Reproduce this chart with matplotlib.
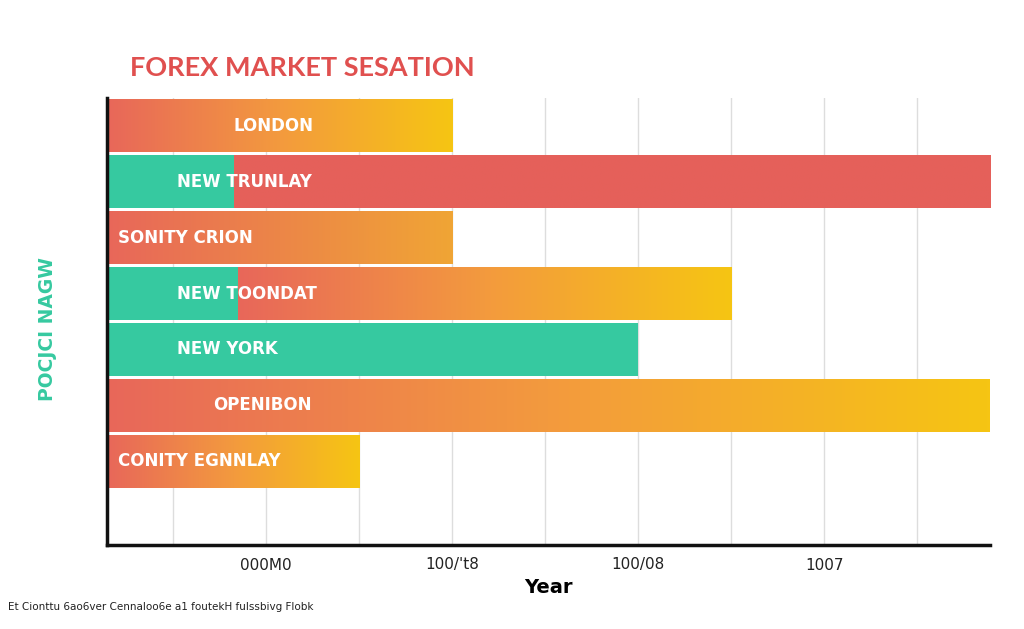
import numpy as np
import matplotlib
matplotlib.use("Agg")
import matplotlib.pyplot as plt
from matplotlib.colors import LinearSegmentedColormap

# data
sessions = ["LONDON", "NEW TRUNLAY", "SONITY CRION", "NEW TOONDAT",
            "NEW YORK", "OPENIBON", "CONITY EGNNLAY"]
totals = [4.0, 9.78, 4.0, 7.0, 6.0, 9.78, 3.0]
teal_end = [0.0, 1.65, 0.0, 1.70, 6.0, 0.0, 0.0]
tick_pos = [2, 4, 6, 8]
tick_labels = ["000M0", "100/'t8", "100/08", "1007"]

X0 = 0.29
TEAL = "#36C9A0"
warm = LinearSegmentedColormap.from_list("warm", ["#E8675A", "#F39A3E", "#F6C513"])
warm_short = LinearSegmentedColormap.from_list("warm_s", ["#E8675A", "#F0A535"])
red = LinearSegmentedColormap.from_list("red", ["#E5615A", "#E5605A"])
bar_cmaps = [warm, red, warm_short, warm, warm, warm, warm]
label_x = [2.08, 1.04, 0.41, 1.04, 1.04, 1.96, 0.41]
label_ha = ["center", "left", "left", "left", "left", "center", "left"]

fig = plt.figure(figsize=(10.24, 6.29), dpi=100)
ax = fig.add_axes([107 / 1024, 1 - 545 / 629, (990 - 107) / 1024, (545 - 98) / 629])

ax.set_xticks(tick_pos)
ax.set_xticklabels(tick_labels, fontsize=11, color="#222222")
ax.set_xticks([1, 3, 5, 7, 9], minor=True)
ax.tick_params(axis="x", which="both", length=0, pad=9)
ax.set_yticks([])
ax.grid(axis="x", which="both", color="#DDDDDD", lw=1)
ax.set_axisbelow(True)
for s in ["top", "right"]:
    ax.spines[s].set_visible(False)
for s in ["left", "bottom"]:
    ax.spines[s].set_linewidth(2.5)
    ax.spines[s].set_color("#111111")

grad = np.linspace(0, 1, 256).reshape(1, -1)
h = 0.95
for i, (name, tot, te) in enumerate(zip(sessions, totals, teal_end)):
    start = X0
    if te > 0:
        ax.barh(i, min(te, tot) - X0, left=X0, height=h, color=TEAL, zorder=2)
        start = te
    if tot > start:
        bar = ax.barh(i, tot - start, left=start, height=h, color="none", zorder=2)[0]
        im = ax.imshow(grad, cmap=bar_cmaps[i], aspect="auto",
                       extent=(start, tot, i + h / 2, i - h / 2), zorder=2)
        im.set_clip_path(bar)
    ax.text(label_x[i], i, name, ha=label_ha[i], va="center", color="white",
            fontsize=12, fontweight="bold", zorder=3)

ax.set_xlim(X0, 9.78)
ax.set_ylim(7.5, -0.5)

ax.set_xlabel("Year", fontsize=14, fontweight="bold", labelpad=4)
ax.set_ylabel("POCJCI NAGW", fontsize=13.5, fontweight="bold", color=TEAL)
ax.yaxis.set_label_coords(-50 / 883, 1 - (329 - 98) / 447)

fig.text(130 / 1024, 1 - 68 / 629, "FOREX MARKET SESATION", fontsize=19.5,
         fontweight="bold", color="#E0504F", va="center", family="Lato")
fig.text(8 / 1024, 1 - 607 / 629, "Et Cionttu 6ao6ver Cennaloo6e a1 foutekH fulssbivg Flobk",
         fontsize=7.5, color="#222222", va="center")

fig.savefig("out.png", dpi=100)
